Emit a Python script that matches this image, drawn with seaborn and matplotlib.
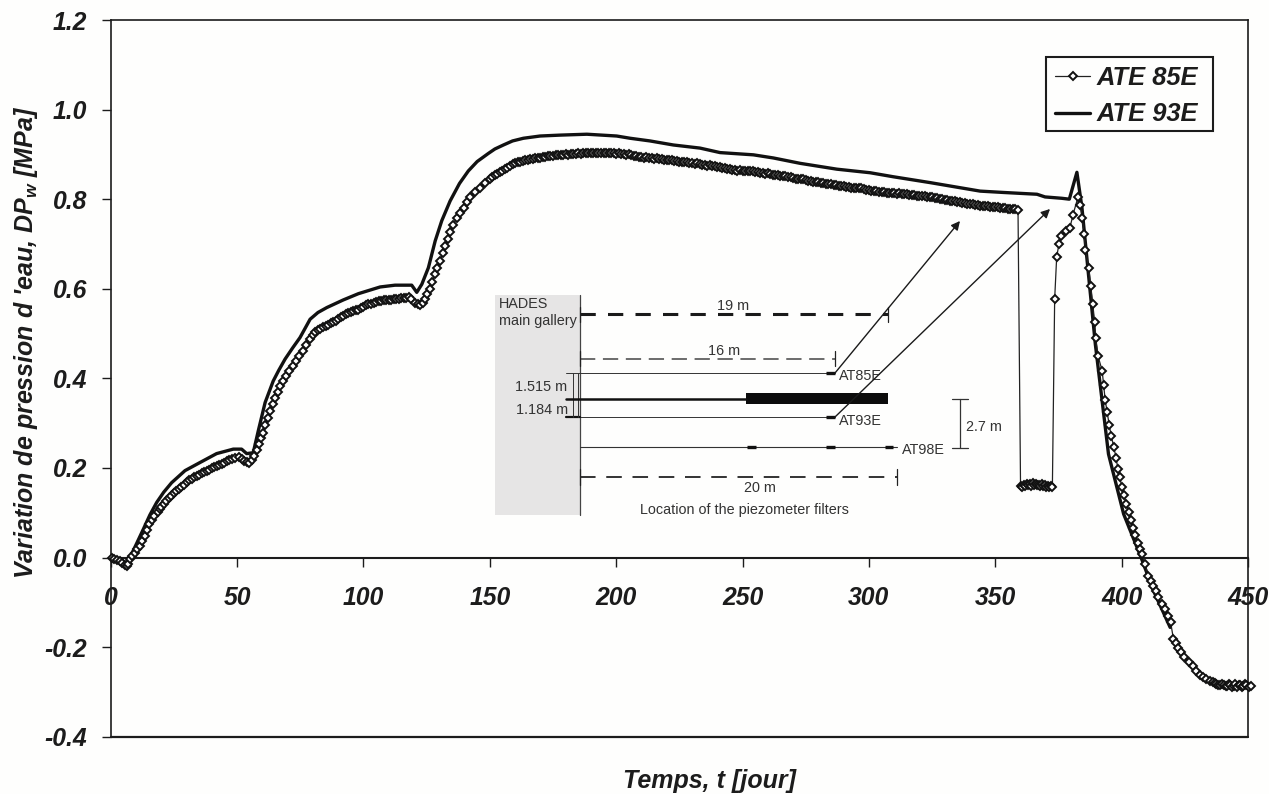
import matplotlib
matplotlib.use("Agg")
import matplotlib.pyplot as plt
from matplotlib.patches import Rectangle
import seaborn as sns

x_ticks = [0, 50, 100, 150, 200, 250, 300, 350, 400, 450]
y_ticks = [-0.4, -0.2, 0.0, 0.2, 0.4, 0.6, 0.8, 1.0, 1.2]

t_93e = [0.4, 3.7, 6.3, 8.9, 12.9, 15.5, 18.2, 21.0, 24.1, 29.4, 35.3, 41.9, 48.5, 51.8, 53.8, 56.4, 58.4,
         61.1, 64.3, 66.5, 69.0, 72.0, 74.9, 78.9, 82.0, 85.5, 92.0, 98.0, 106.6, 112.5, 119.1, 121.1, 123.1, 125.7,
         128.4, 131.0, 134.3, 138.0, 141.5, 145.0, 149.4, 152.0, 155.4, 159.0, 163.3, 169.9, 177.8, 188.4, 200.2,
         205.5, 213.4, 222.6, 233.2, 241.1, 254.3, 262.2, 272.8, 287.3, 300.5, 309.7, 324.2, 344.0, 353.2, 366.5,
         369.7, 376.3, 379.3, 382.3, 384.3, 387.0, 389.6, 394.8, 400.8, 407.7, 412.6, 419.2]
p_93e = [0.000, -0.011, -0.016, 0.015, 0.063, 0.095, 0.123, 0.146, 0.167, 0.194, 0.212, 0.232, 0.242, 0.242,
         0.232, 0.234, 0.283, 0.346, 0.394, 0.418, 0.443, 0.468, 0.491, 0.532, 0.547, 0.558, 0.575, 0.589, 0.604,
         0.608, 0.608, 0.592, 0.610, 0.647, 0.707, 0.752, 0.796, 0.835, 0.863, 0.884, 0.902, 0.912, 0.921, 0.930,
         0.936, 0.941, 0.943, 0.945, 0.941, 0.936, 0.930, 0.921, 0.914, 0.904, 0.899, 0.892, 0.880, 0.867, 0.859,
         0.850, 0.837, 0.818, 0.815, 0.811, 0.805, 0.802, 0.800, 0.860, 0.781, 0.625, 0.476, 0.231, 0.097, 0.000,
         -0.074, -0.156]

t_85e = [0.5, 1.5, 2.5, 3.5, 4.5, 5.5, 6.3, 7.0, 7.8, 8.6, 9.5, 10.4,
         11.4, 12.4, 13.4, 14.3, 15.3, 16.3, 17.3, 18.6, 19.4,
         20, 21, 22, 23, 24, 25, 26, 27, 28, 29,
         30, 31, 32, 33, 34, 35, 36, 37, 38, 39,
         40, 41, 42, 43, 44, 45, 46, 47, 48, 49,
         50.8, 51.8, 52.8, 53.8, 54.8, 55.8, 56.8, 57.7, 58.6, 59.4, 60.2, 61.1,
         62.1, 63.1, 64.1, 65.1, 66.1, 67.1, 68.1, 69.4, 70.7, 72.0, 73.4, 74.7,
         76.0, 77.3, 78.7,
         80, 81, 82, 83, 84, 85, 86, 87, 88, 89,
         90, 91, 92, 93, 94, 95, 96, 97, 98, 99,
         100, 101, 102, 103, 104, 105, 106, 107, 108, 109,
         110, 111, 112, 113, 114, 115, 116, 117, 118, 119,
         120.4, 121.4, 122.4, 123.4, 124.4, 125.3, 126.3, 127.3, 128.3, 129.3,
         130.3, 131.3, 132.3, 133.3, 134.3, 135.6, 136.9, 138.2, 139.6, 140.9, 142.2, 144.2,
         146.2, 148.2,
         150, 151, 152, 153, 154, 155, 156, 157, 158, 159,
         160, 161, 162, 163, 164, 165, 166, 167, 168, 169,
         170, 171, 172, 173, 174, 175, 176, 177, 178, 179,
         180, 181, 182, 183, 184, 185, 186, 187, 188, 189,
         190, 191, 192, 193, 194, 195, 196, 197, 198, 199,
         200, 201, 202, 203, 204, 205, 206, 207, 208, 209,
         210, 211, 212, 213, 214, 215, 216, 217, 218, 219,
         220, 221, 222, 223, 224, 225, 226, 227, 228, 229,
         230, 231, 232, 233, 234, 235, 236, 237, 238, 239,
         240, 241, 242, 243, 244, 245, 246, 247, 248, 249,
         250, 251, 252, 253, 254, 255, 256, 257, 258, 259,
         260, 261, 262, 263, 264, 265, 266, 267, 268, 269,
         270, 271, 272, 273, 274, 275, 276, 277, 278, 279,
         280, 281, 282, 283, 284, 285, 286, 287, 288, 289,
         290, 291, 292, 293, 294, 295, 296, 297, 298, 299,
         300, 301, 302, 303, 304, 305, 306, 307, 308, 309,
         310, 311, 312, 313, 314, 315, 316, 317, 318, 319,
         320, 321, 322, 323, 324, 325, 326, 327, 328, 329,
         330, 331, 332, 333, 334, 335, 336, 337, 338, 339,
         340, 341, 342, 343, 344, 345, 346, 347, 348, 349,
         350, 351, 352, 353, 354, 355, 356, 357, 358, 359,
         360.0, 360.6, 361.2, 361.8, 362.4, 363.0, 363.6, 364.2, 364.8, 365.4, 366.0, 366.6,
         367.2, 367.8, 368.4, 369.0, 369.6, 370.2, 370.8, 371.4, 372.0, 372.6,
         373.5, 374.3, 375.2, 376.1, 377.8, 379.5, 380.7, 382.7, 383.5, 384.4, 385.1, 385.7,
         387.0, 387.8, 388.6, 389.3, 389.8, 390.7, 392.3, 392.9, 393.5, 394.3, 395.1, 395.9,
         396.9, 397.8, 398.5, 399.3, 400.0, 400.8, 401.9, 402.9, 403.6, 404.4, 405.3, 406.4,
         407.2, 408.0, 409.3, 410.6, 411.7, 412.6, 413.6, 414.5, 415.8, 417.2, 418.2, 419.4,
         420.5, 421.6, 422.5, 423.6, 424.8, 426.5, 428.1, 429.5, 431.1, 432.3, 433.5, 434.8,
         436.1, 436.8, 437.5, 438.2, 439.0, 439.7, 440.4, 441.1, 441.7, 442.4, 443.0, 443.7,
         444.3, 445.0, 445.6, 446.3, 447.0, 447.6, 448.2, 448.8, 449.4, 450.3, 451.2]
p_85e = [0.000, -0.003, -0.006, -0.008, -0.012, -0.016, -0.018, -0.014, -0.004, 0.004, 0.011, 0.019,
         0.026, 0.036, 0.048, 0.061, 0.074, 0.083, 0.092, 0.102, 0.108,
         0.113, 0.119, 0.126, 0.132, 0.138, 0.143, 0.149, 0.154, 0.158, 0.163,
         0.169, 0.172, 0.176, 0.180, 0.182, 0.185, 0.188, 0.191, 0.193, 0.196,
         0.199, 0.202, 0.204, 0.207, 0.209, 0.212, 0.215, 0.217, 0.219, 0.222,
         0.225, 0.221, 0.216, 0.214, 0.212, 0.218, 0.227, 0.240, 0.253, 0.266, 0.279, 0.295,
         0.312, 0.327, 0.342, 0.356, 0.369, 0.382, 0.394, 0.406, 0.417, 0.428, 0.439, 0.450,
         0.461, 0.474, 0.487,
         0.497, 0.504, 0.508, 0.511, 0.514, 0.516, 0.520, 0.523, 0.526, 0.529,
         0.532, 0.536, 0.540, 0.543, 0.546, 0.548, 0.550, 0.552, 0.553, 0.556,
         0.560, 0.563, 0.565, 0.566, 0.568, 0.570, 0.572, 0.573, 0.574, 0.575,
         0.575, 0.576, 0.577, 0.577, 0.577, 0.579, 0.579, 0.580, 0.581, 0.577,
         0.569, 0.566, 0.563, 0.569, 0.577, 0.588, 0.599, 0.615, 0.632, 0.647,
         0.662, 0.679, 0.696, 0.711, 0.726, 0.743, 0.759, 0.770, 0.781, 0.793, 0.804, 0.815,
         0.826, 0.836,
         0.845, 0.849, 0.853, 0.856, 0.860, 0.863, 0.867, 0.870, 0.874, 0.878,
         0.880, 0.882, 0.883, 0.885, 0.887, 0.887, 0.889, 0.890, 0.891, 0.892,
         0.893, 0.894, 0.894, 0.896, 0.896, 0.897, 0.898, 0.898, 0.899, 0.899,
         0.900, 0.899, 0.901, 0.900, 0.901, 0.902, 0.901, 0.903, 0.902, 0.903,
         0.902, 0.904, 0.903, 0.904, 0.902, 0.903, 0.902, 0.904, 0.902, 0.903,
         0.901, 0.902, 0.900, 0.901, 0.899, 0.900, 0.898, 0.897, 0.896, 0.895,
         0.895, 0.893, 0.894, 0.892, 0.892, 0.890, 0.891, 0.889, 0.890, 0.888,
         0.888, 0.887, 0.887, 0.885, 0.885, 0.884, 0.883, 0.884, 0.882, 0.881,
         0.881, 0.879, 0.880, 0.878, 0.877, 0.877, 0.875, 0.876, 0.873, 0.873,
         0.871, 0.871, 0.869, 0.869, 0.867, 0.867, 0.866, 0.866, 0.864, 0.865,
         0.864, 0.863, 0.864, 0.862, 0.862, 0.860, 0.861, 0.859, 0.859, 0.857,
         0.858, 0.856, 0.855, 0.855, 0.853, 0.852, 0.851, 0.851, 0.849, 0.849,
         0.847, 0.846, 0.846, 0.844, 0.844, 0.842, 0.841, 0.841, 0.839, 0.838,
         0.838, 0.836, 0.836, 0.834, 0.834, 0.833, 0.832, 0.832, 0.830, 0.830,
         0.829, 0.828, 0.828, 0.826, 0.826, 0.825, 0.824, 0.824, 0.823, 0.821,
         0.821, 0.819, 0.819, 0.818, 0.816, 0.816, 0.815, 0.814, 0.814, 0.813,
         0.813, 0.812, 0.813, 0.811, 0.811, 0.811, 0.810, 0.809, 0.809, 0.807,
         0.808, 0.806, 0.806, 0.805, 0.804, 0.804, 0.802, 0.802, 0.801, 0.800,
         0.799, 0.798, 0.797, 0.797, 0.795, 0.794, 0.794, 0.792, 0.792, 0.790,
         0.790, 0.789, 0.788, 0.787, 0.785, 0.785, 0.784, 0.784, 0.783, 0.783,
         0.782, 0.782, 0.781, 0.781, 0.780, 0.779, 0.778, 0.778, 0.777, 0.775,
         0.160, 0.158, 0.163, 0.160, 0.165, 0.161, 0.164, 0.160, 0.166, 0.162, 0.165, 0.161,
         0.163, 0.160, 0.164, 0.160, 0.162, 0.158, 0.160, 0.157, 0.159, 0.158,
         0.577, 0.671, 0.700, 0.718, 0.728, 0.735, 0.764, 0.804, 0.787, 0.759, 0.723, 0.687,
         0.646, 0.606, 0.565, 0.526, 0.489, 0.449, 0.417, 0.385, 0.351, 0.324, 0.295, 0.272,
         0.246, 0.223, 0.198, 0.180, 0.158, 0.140, 0.119, 0.102, 0.083, 0.067, 0.051, 0.033,
         0.020, 0.008, -0.015, -0.041, -0.052, -0.063, -0.074, -0.089, -0.104, -0.115, -0.130, -0.145,
         -0.182, -0.190, -0.201, -0.212, -0.223, -0.234, -0.242, -0.253, -0.262, -0.267, -0.272, -0.276,
         -0.279, -0.281, -0.282, -0.284, -0.285, -0.283, -0.284, -0.287, -0.286, -0.283, -0.285, -0.288,
         -0.286, -0.283, -0.288, -0.285, -0.285, -0.289, -0.286, -0.283, -0.284, -0.288, -0.287]

sns.set_theme(style="white")
plt.rcParams["font.family"] = ["Liberation Sans", "DejaVu Sans"]
plt.rcParams["mathtext.fontset"] = "custom"
plt.rcParams["mathtext.it"] = "Liberation Sans:italic:bold"
plt.rcParams["mathtext.rm"] = "Liberation Sans:italic:bold"

ink = "#1c1c1c"
bold = dict(fontsize=17.8, fontweight="bold", fontstyle="italic", color=ink)
title_font = dict(fontsize=18.0, fontweight="bold", fontstyle="italic", color=ink)

fig = plt.figure(figsize=(12.69, 7.94), dpi=100, facecolor="#fefefd")
ax = fig.add_axes([110.7 / 1269, 1 - 736.7 / 794, 1137.3 / 1269, 716.7 / 794], facecolor="#fefefd")

sns.lineplot(x=t_93e, y=p_93e, ax=ax, sort=False, estimator=None, color="#111111",
             linewidth=2.4, label="ATE 93E", zorder=3)
sns.lineplot(x=t_85e, y=p_85e, ax=ax, sort=False, estimator=None, color="#222222",
             linewidth=0.9, marker="D", markersize=4.3, markerfacecolor="white",
             markeredgecolor="#111111", markeredgewidth=1.4, label="ATE 85E",
             zorder=4, clip_on=False)

for s in ax.spines.values():
    s.set_visible(True)
    s.set_color(ink)
    s.set_linewidth(1.2)
# the x axis sits on the zero line, the frame still closes at the bottom
# (set_position resets the ticks, so it comes before the tick setup)
ax.spines["bottom"].set_position(("data", 0))
ax.spines["bottom"].set_linewidth(1.5)
ax.axhline(-0.4, color=ink, linewidth=1.6, clip_on=False, zorder=2)

ax.set_xlim(0, 450)
ax.set_ylim(-0.4, 1.2)
ax.set_xticks(x_ticks)
ax.set_yticks(y_ticks)
ax.set_yticklabels([f"{v:.1f}" for v in y_ticks], **bold)
ax.set_xticklabels([str(v) for v in x_ticks], **bold)
ax.tick_params(axis="x", bottom=True, length=6.5, width=1, color=ink, pad=14)
ax.tick_params(axis="y", left=True, length=6.5, width=1, color=ink, pad=10.5)

ax.set_xlabel("Temps, t [jour]", va="center", **title_font)
ax.xaxis.set_label_coords(598.8 / 1137.3, -44.3 / 716.7)
ax.set_ylabel("Variation de pression d 'eau, DP$_{w}$ [MPa]", va="center", **title_font)
ax.yaxis.set_label_coords(-85 / 1137.3, 394 / 716.7)

handles, labels = ax.get_legend_handles_labels()
leg = ax.legend(handles[::-1], labels[::-1], loc="upper left", frameon=False,
                bbox_to_anchor=(935.3 / 1137.3, 679.7 / 716.7), borderaxespad=0,
                prop=dict(family="Liberation Sans", size=18.4, weight="bold", style="italic"),
                handlelength=1.4, handletextpad=0.22, borderpad=0.34, labelspacing=0.5)
for txt in leg.get_texts():
    txt.set_color(ink)

# piezometer sketch, drawn in picture pixels on a see-through layer
sk = fig.add_axes([0, 0, 1, 1], facecolor="none")
sk.set_xlim(0, 1269)
sk.set_ylim(794, 0)
sk.axis("off")

sk.add_patch(Rectangle((1046, 57), 167, 74, fill=False, edgecolor=ink, linewidth=1.5))

grey = "#333333"
small = dict(fontsize=10.4, color=grey, va="center")

sk.add_patch(Rectangle((495, 295), 85, 220, facecolor="#e6e5e5", edgecolor="none"))
sk.plot([580, 580], [295, 515], color="#444444", lw=0.9)
sk.text(499, 304, "HADES", **small)
sk.text(499, 321, "main gallery", **small)

sk.plot([580, 888], [314.3, 314.3], color="#1a1a1a", lw=2.2, dashes=(5, 4))
sk.plot([580, 835], [359, 359], color="#444444", lw=1.1, dashes=(10, 5))
sk.plot([580, 897], [476.7, 476.7], color="#333333", lw=1.4, dashes=(8, 5.5))
for x, y0, y1 in [(580, 307, 322), (888, 307, 322), (580, 351, 366), (835, 351, 366),
                  (580, 469, 485), (897, 469, 485)]:
    sk.plot([x, x], [y0, y1], color="#222222", lw=0.9)
sk.text(733, 305.5, "19 m", ha="center", **small)
sk.text(724, 351, "16 m", ha="center", **small)
sk.text(760, 488.5, "20 m", ha="center", **small)

sk.plot([566, 835], [373.3, 373.3], color="#333333", lw=0.7)
sk.plot([566, 835], [417, 417], color="#333333", lw=0.7)
sk.plot([580, 897], [446.7, 446.7], color="#333333", lw=0.8)
sk.plot([566, 580], [417, 417], color="#111111", lw=1.6)
sk.plot([573, 573], [373.3, 417], color="#333333", lw=0.7)
sk.plot([578, 578], [373.3, 417], color="#333333", lw=0.7)
sk.plot([566, 746], [399, 399], color="#111111", lw=1.8)
sk.add_patch(Rectangle((745.5, 393.3), 142.5, 11, facecolor="#0c0c0c", edgecolor="none"))
for x0, x1, y in [(826, 835, 373.3), (826, 835, 417), (747, 756, 446.7), (826, 834.5, 446.7),
                  (884.5, 893, 446.7)]:
    sk.plot([x0, x1], [y, y], color="#111111", lw=2.4, solid_capstyle="butt")

sk.text(839, 376.5, "AT85E", **small)
sk.text(839, 421, "AT93E", **small)
sk.text(902, 450, "AT98E", **small)
sk.text(515, 387.3, "1.515 m", **small)
sk.text(516, 410, "1.184 m", **small)

sk.plot([960, 960], [399.3, 448.3], color="#333333", lw=0.9)
sk.plot([952.4, 968], [399.3, 399.3], color="#333333", lw=0.9)
sk.plot([952.4, 968], [448.3, 448.3], color="#333333", lw=0.9)
sk.text(966, 426.7, "2.7 m", **small)
sk.text(744.5, 510, "Location of the piezometer filters", ha="center", **small)

for start, tip in [((835, 373), (960, 221)), ((835, 417), (1050, 209))]:
    sk.annotate("", xy=tip, xytext=start,
                arrowprops=dict(arrowstyle="-|>", color="#1a1a1a", lw=1.0, mutation_scale=13,
                                shrinkA=0, shrinkB=0))

fig.savefig("out.png", dpi=100, facecolor=fig.get_facecolor())
